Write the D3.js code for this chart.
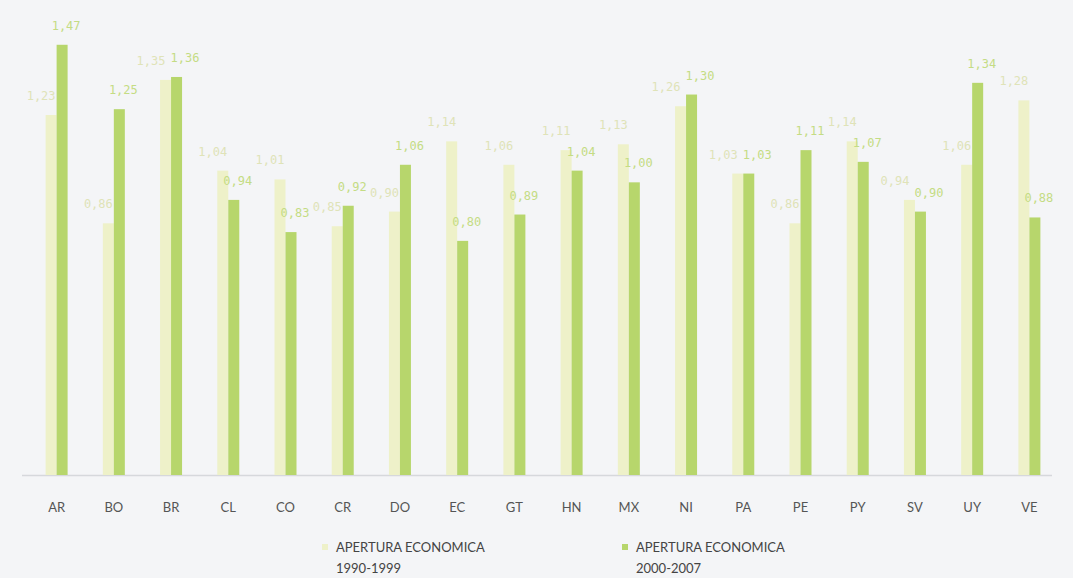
<!DOCTYPE html>
<html><head><meta charset="utf-8">
<script src="https://cdn.jsdelivr.net/npm/d3@7"></script>
<style>
html,body{margin:0;padding:0;background:#f4f5f7;}
svg{display:block;}
</style></head>
<body>
<svg id="chart" width="1073" height="578"></svg>
<script>
const categories = ["AR","BO","BR","CL","CO","CR","DO","EC","GT","HN","MX","NI","PA","PE","PY","SV","UY","VE"];
const seriesNames = ["APERTURA ECONOMICA 1990-1999","APERTURA ECONOMICA 2000-2007"];
const values1990 = [1.23,0.86,1.35,1.04,1.01,0.85,0.90,1.14,1.06,1.11,1.13,1.26,1.03,0.86,1.14,0.94,1.06,1.28];
const values2000 = [1.47,1.25,1.36,0.94,0.83,0.92,1.06,0.80,0.89,1.04,1.00,1.30,1.03,1.11,1.07,0.90,1.34,0.88];
const colors = ["#eef1c9","#b7d66c"];
const labelColors = ["#dfe3b8","#c4dc84"];

const svg = d3.select("#chart");
svg.append("rect").attr("width",1073).attr("height",578).attr("fill","#f4f5f7");

const x = d3.scaleBand().domain(categories).range([28,1058]).padding(0);
const sub = d3.scaleBand().domain([0,1]).range([0,22]).padding(0);
const y = d3.scaleLinear().domain([0,1.5]).range([475,36]);

// baseline
svg.append("line").attr("x1",22).attr("x2",1052).attr("y1",y(0)+0.5).attr("y2",y(0)+0.5)
  .attr("stroke","#d6d8dc").attr("stroke-width",1.5);

const series = [values1990, values2000];
const offX = [-10, 4];
const fmt = v => d3.format(".2f")(v).replace(".",",");

// bars
series.forEach((vals,si)=>{
  svg.append("g").selectAll("rect").data(categories).join("rect")
    .attr("x", c => x(c) + x.bandwidth()/2 - 11 + sub(si))
    .attr("y", (c,i) => y(vals[i]))
    .attr("width", sub.bandwidth())
    .attr("height", (c,i) => y(0) - y(vals[i]))
    .attr("fill", colors[si]);
});

// labels with simple collision avoidance between the two labels of a category
const labelW = 30;
const labels = [];
categories.forEach((c,i)=>{
  const pos = series.map((vals,si)=>({
    si, v: vals[i],
    x: x(c) + x.bandwidth()/2 - 11 + sub(si) + sub.bandwidth()/2 + offX[si],
    y: y(vals[i]) - 15
  }));
  const [a,b] = pos;
  if (Math.abs(a.y - b.y) < 12) {
    const overlap = labelW - (b.x - a.x);
    if (overlap > -4) { a.x -= (overlap+4)/2; b.x += (overlap+4)/2; }
  }
  labels.push(...pos);
});
svg.append("g").selectAll("text").data(labels).join("text")
  .attr("x", d => d.x)
  .attr("y", d => d.y)
  .attr("text-anchor","middle")
  .attr("font-family","DejaVu Sans Mono, monospace")
  .attr("font-size",12)
  .attr("fill", d => labelColors[d.si])
  .text(d => fmt(d.v));

// x axis labels
const xAxis = d3.axisBottom(x).tickSize(0).tickPadding(0);
const ax = svg.append("g").attr("transform",`translate(0,${y(0)})`).call(xAxis);
ax.select(".domain").remove();
ax.selectAll("text").attr("dy",0).attr("y",37)
  .attr("font-family","Lato, 'Open Sans', sans-serif").attr("font-size",13).attr("fill","#555");

// legend
const legend = svg.append("g");
const lx = [322, 622];
seriesNames.forEach((name,i)=>{
  legend.append("rect").attr("x",lx[i]).attr("y",544).attr("width",6).attr("height",6).attr("fill",colors[i]);
  const t = legend.append("text").attr("x",lx[i]+14).attr("y",552)
    .attr("font-family","Lato, 'Open Sans', sans-serif").attr("font-size",13).attr("fill","#444");
  const parts = [name.slice(0, name.lastIndexOf(" ")), name.slice(name.lastIndexOf(" ")+1)];
  t.append("tspan").attr("x",lx[i]+14).attr("dy",0).text(parts[0]);
  t.append("tspan").attr("x",lx[i]+14).attr("dy",21).text(parts[1]);
});
</script>
</body></html>
